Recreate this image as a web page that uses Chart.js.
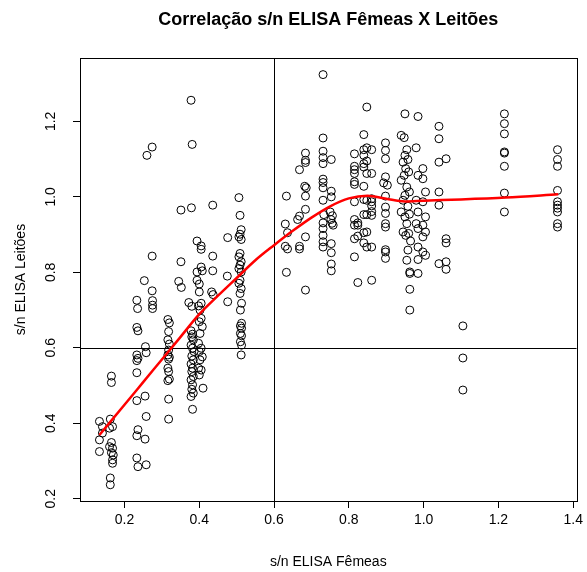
<!DOCTYPE html>
<html>
<head>
<meta charset="utf-8">
<script src="https://cdn.jsdelivr.net/npm/chart.js@4.4.0/dist/chart.umd.min.js"></script>
<style>
  html, body { margin: 0; padding: 0; background: #fff; }
  #wrap { width: 587px; height: 572px; }
</style>
</head>
<body>
<div id="wrap"><canvas id="c" width="587" height="572"></canvas></div>
<script>
const femeas = [
  0.133, 0.133, 0.133, 0.141, 0.141,
  0.165, 0.165, 0.162, 0.168, 0.160, 0.165, 0.160, 0.168, 0.165, 0.170, 0.168, 0.168, 0.162, 0.162,
  0.233, 0.235, 0.233, 0.236, 0.233, 0.236, 0.233, 0.233, 0.233, 0.236, 0.233, 0.233, 0.236,
  0.253, 0.256, 0.258, 0.255, 0.258, 0.255, 0.258, 0.260,
  0.274, 0.275, 0.275, 0.275, 0.274, 0.274,
  0.316, 0.320, 0.318, 0.316, 0.320, 0.318, 0.316, 0.320, 0.318, 0.316, 0.318, 0.320, 0.316, 0.318, 0.318,
  0.351, 0.351, 0.345, 0.352, 0.372, 0.380,
  0.378, 0.382, 0.380, 0.384, 0.378, 0.382, 0.386, 0.380, 0.384, 0.378, 0.382, 0.380, 0.384, 0.378, 0.382, 0.380, 0.384, 0.378, 0.382, 0.378, 0.381, 0.379,
  0.394, 0.394, 0.394,
  0.400, 0.405, 0.398, 0.402, 0.405, 0.400, 0.408, 0.402, 0.398, 0.405, 0.400, 0.408, 0.402, 0.398, 0.405, 0.400, 0.410, 0.405, 0.405, 0.405, 0.408, 0.400,
  0.436, 0.436, 0.436, 0.433, 0.437,
  0.476, 0.475, 0.476,
  0.506, 0.509, 0.512, 0.509, 0.506, 0.512, 0.509, 0.506, 0.512, 0.509, 0.506, 0.512, 0.509, 0.506, 0.512, 0.509, 0.513, 0.510, 0.513, 0.510, 0.513, 0.510, 0.513, 0.510, 0.513, 0.512,
  0.633, 0.630, 0.636, 0.630, 0.636, 0.633,
  0.668, 0.668, 0.663, 0.668, 0.668,
  0.684, 0.684, 0.684, 0.682, 0.686, 0.684, 0.684, 0.684, 0.684,
  0.731, 0.731, 0.731, 0.731, 0.731, 0.731, 0.731, 0.731, 0.731, 0.733, 0.731, 0.731, 0.731, 0.731, 0.731,
  0.753, 0.753, 0.753, 0.750, 0.756, 0.752, 0.755, 0.758, 0.753, 0.753, 0.753, 0.753,
  0.815, 0.815, 0.815, 0.815, 0.815, 0.815, 0.815, 0.815, 0.815, 0.815, 0.815,
  0.824, 0.824, 0.824, 0.824,
  0.840, 0.840, 0.840, 0.840, 0.840, 0.840, 0.840, 0.840, 0.840, 0.840,
  0.848, 0.848, 0.848, 0.848, 0.848, 0.848, 0.848, 0.848,
  0.861, 0.861, 0.861, 0.861, 0.861, 0.861, 0.861, 0.861, 0.861,
  0.898, 0.898, 0.898, 0.898, 0.893, 0.903, 0.898, 0.898, 0.898, 0.898, 0.898, 0.898, 0.898, 0.898,
  0.950, 0.940, 0.948, 0.955, 0.950, 0.958, 0.945, 0.952, 0.960, 0.948, 0.940, 0.955, 0.962, 0.950, 0.945, 0.958, 0.940, 0.962, 0.950, 0.955, 0.945, 0.960, 0.952, 0.965, 0.958, 0.955, 0.963, 0.963, 0.963, 0.963,
  0.985, 0.980, 0.998, 0.985, 0.998, 1.005, 0.980, 0.998, 0.985, 1.005, 0.980, 0.998, 0.985, 1.005, 0.998, 0.985, 0.998, 1.005, 0.985, 0.985,
  1.041, 1.041, 1.041, 1.041, 1.041, 1.041,
  1.060, 1.060, 1.060, 1.060, 1.060,
  1.105, 1.105, 1.105,
  1.216, 1.216, 1.216, 1.216, 1.216, 1.216, 1.216, 1.216,
  1.358, 1.358, 1.358, 1.358, 1.358, 1.358, 1.358, 1.358, 1.358, 1.358
];
const leitoes = [
  0.405, 0.356, 0.325, 0.374, 0.391,
  0.525, 0.508, 0.411, 0.391, 0.387, 0.349, 0.338, 0.334, 0.322, 0.316, 0.303, 0.294, 0.255, 0.237,
  0.726, 0.704, 0.654, 0.645, 0.581, 0.572, 0.566, 0.534, 0.460, 0.383, 0.367, 0.308, 0.285,
  0.778, 0.603, 0.587, 0.472, 0.418, 0.358, 0.290, 1.110,
  0.751, 0.725, 0.713, 0.704, 0.843, 1.132,
  0.675, 0.666, 0.643, 0.621, 0.610, 0.594, 0.581, 0.575, 0.570, 0.546, 0.537, 0.517, 0.513, 0.464, 0.411,
  0.965, 0.828, 0.776, 0.760, 0.720, 0.710,
  0.645, 0.636, 0.629, 0.621, 0.607, 0.599, 0.590, 0.578, 0.568, 0.557, 0.546, 0.537, 0.524, 0.515, 0.502, 0.490, 0.480, 0.471, 0.437, 1.256, 1.139, 0.971,
  0.883, 0.801, 0.779,
  0.748, 0.718, 0.711, 0.700, 0.678, 0.669, 0.656, 0.638, 0.612, 0.599, 0.590, 0.576, 0.568, 0.546, 0.541, 0.528, 0.493, 0.870, 0.861, 0.814, 0.804, 0.769,
  0.978, 0.843, 0.804, 0.748, 0.741,
  0.892, 0.790, 0.722,
  0.998, 0.951, 0.913, 0.901, 0.894, 0.887, 0.850, 0.841, 0.828, 0.819, 0.810, 0.801, 0.779, 0.771, 0.757, 0.744, 0.718, 0.700, 0.665, 0.658, 0.652, 0.638, 0.632, 0.616, 0.607, 0.581,
  1.002, 0.928, 0.905, 0.869, 0.862, 0.800,
  1.072, 0.949, 0.940, 0.869, 0.862,
  1.116, 1.097, 1.091, 1.028, 1.024, 1.002, 0.967, 0.894, 0.753,
  1.324, 1.156, 1.121, 1.104, 1.088, 1.047, 1.038, 1.024, 0.991, 0.953, 0.931, 0.916, 0.898, 0.881, 0.867,
  1.099, 1.015, 1.000, 0.960, 0.950, 0.940, 0.930, 0.925, 0.876, 0.852, 0.822, 0.804,
  1.114, 1.081, 1.072, 1.062, 1.040, 1.033, 0.987, 0.940, 0.925, 0.889, 0.841,
  0.931, 0.925, 0.896, 0.773,
  1.165, 1.125, 1.110, 1.088, 1.079, 1.028, 0.993, 0.953, 0.905, 0.878,
  1.238, 1.130, 1.095, 1.062, 0.991, 0.953, 0.907, 0.867,
  1.125, 1.062, 0.995, 0.987, 0.976, 0.961, 0.951, 0.867, 0.779,
  1.143, 1.123, 1.101, 1.053, 1.037, 1.031, 1.002, 0.973, 0.956, 0.929, 0.920, 0.860, 0.854, 0.837,
  1.220, 1.163, 1.157, 1.125, 1.110, 1.099, 1.092, 1.075, 1.066, 1.057, 1.044, 1.026, 1.013, 1.004, 0.991, 0.975, 0.960, 0.954, 0.947, 0.929, 0.907, 0.903, 0.898, 0.883, 0.859, 0.832, 0.801, 0.797, 0.755, 0.700,
  1.213, 1.130, 1.075, 1.057, 1.048, 1.013, 0.991, 0.987, 0.960, 0.947, 0.929, 0.925, 0.916, 0.907, 0.894, 0.867, 0.854, 0.845, 0.834, 0.797,
  1.187, 1.154, 1.092, 1.013, 0.978, 0.823,
  1.101, 0.889, 0.878, 0.828, 0.808,
  0.658, 0.573, 0.488,
  1.220, 1.194, 1.167, 1.119, 1.116, 1.081, 1.010, 0.960,
  1.125, 1.099, 1.081, 1.017, 0.987, 0.978, 0.970, 0.960, 0.929, 0.920
];
if (femeas.length !== leitoes.length) console.warn('tamanhos diferentes', femeas.length, leitoes.length);

// curva suavizada (lowess) em vermelho
const curvaX = [0.133, 0.20, 0.25, 0.30, 0.35, 0.40, 0.45, 0.50, 0.55, 0.60, 0.65, 0.70, 0.75, 0.80, 0.85, 0.90, 0.95, 1.00, 1.10, 1.22, 1.36];
const curvaY = [0.369, 0.449, 0.509, 0.569, 0.629, 0.689, 0.738, 0.785, 0.832, 0.872, 0.910, 0.945, 0.975, 0.996, 1.003, 0.995, 0.988, 0.990, 0.993, 0.998, 1.007];

const xTicks = [0.2, 0.4, 0.6, 0.8, 1.0, 1.2, 1.4];
const yTicks = [0.2, 0.4, 0.6, 0.8, 1.0, 1.2];
const corte = 0.6; // linhas de referencia (abline v=0.6, h=0.6)

const titulo = 'Correlação s/n ELISA Fêmeas X Leitões';
const tituloX = 's/n ELISA Fêmeas';
const tituloY = 's/n ELISA Leitões';

Chart.defaults.font.family = '"Liberation Sans", Arial, Helvetica, sans-serif';
Chart.defaults.color = '#000';

// caixa, linhas de referencia, titulo e rotulos do eixo y (rodados como no R)
const estiloR = {
  id: 'estiloR',
  beforeDatasetsDraw(chart) {
    const { ctx, chartArea: a, scales: { x, y } } = chart;
    const px = Math.round(x.getPixelForValue(corte)) + 0.5;
    const py = Math.round(y.getPixelForValue(corte)) + 0.5;
    ctx.save();
    ctx.strokeStyle = '#000';
    ctx.lineWidth = 1;
    ctx.beginPath();
    ctx.moveTo(px, a.top); ctx.lineTo(px, a.bottom);
    ctx.moveTo(a.left, py); ctx.lineTo(a.right, py);
    ctx.stroke();
    ctx.restore();
  },
  afterDraw(chart) {
    const { ctx, chartArea: a, scales: { y } } = chart;
    ctx.save();
    ctx.strokeStyle = '#000';
    ctx.lineWidth = 1;
    const l = Math.round(a.left) + 0.5, t = Math.round(a.top) + 0.5;
    ctx.strokeRect(l, t, Math.round(a.right) - Math.round(a.left), Math.round(a.bottom) - Math.round(a.top));

    ctx.fillStyle = '#000';
    ctx.textAlign = 'center';
    ctx.textBaseline = 'middle';
    ctx.font = 'bold 18px "Liberation Sans", Arial, sans-serif';
    ctx.fillText(titulo, (a.left + a.right) / 2, 20);

    ctx.font = '14px "Liberation Sans", Arial, sans-serif';
    yTicks.forEach((v) => {
      ctx.save();
      ctx.translate(a.left - 29, y.getPixelForValue(v));
      ctx.rotate(-Math.PI / 2);
      ctx.fillText(v.toFixed(1), 0, 0);
      ctx.restore();
    });
    ctx.restore();
  },
};

const pontos = femeas.map((v, i) => ({ x: v, y: leitoes[i] }));
const curva = curvaX.map((v, i) => ({ x: v, y: curvaY[i] }));

new Chart(document.getElementById('c'), {
  type: 'scatter',
  data: {
    datasets: [
      {
        type: 'line',
        data: curva,
        borderColor: '#ff0000',
        borderWidth: 2.5,
        pointRadius: 0,
        fill: false,
        cubicInterpolationMode: 'monotone',
      },
      {
        data: pontos,
        pointStyle: 'circle',
        pointRadius: 4,
        borderWidth: 1,
        borderColor: '#000',
        backgroundColor: 'rgba(0,0,0,0)',
      },
    ],
  },
  options: {
    responsive: false,
    animation: false,
    events: [],
    layout: { padding: { top: 58, right: 9, bottom: 0, left: 0 } },
    plugins: { legend: { display: false }, tooltip: { enabled: false } },
    scales: {
      x: {
        type: 'linear',
        min: 0.081,
        max: 1.409,
        afterBuildTicks: (s) => { s.ticks = xTicks.map((v) => ({ value: v })); },
        afterFit: (s) => { s.height = 71; },
        grid: { drawOnChartArea: false, drawTicks: true, tickLength: 7, color: '#000' },
        border: { color: '#000', width: 1 },
        ticks: { font: { size: 14 }, padding: 4, maxRotation: 0, callback: (v) => Number(v).toFixed(1) },
        title: { display: true, text: tituloX, font: { size: 14 }, padding: { top: 0, bottom: 1 } },
      },
      y: {
        type: 'linear',
        min: 0.194,
        max: 1.368,
        afterBuildTicks: (s) => { s.ticks = yTicks.map((v) => ({ value: v })); },
        afterFit: (s) => { s.width = 80; },
        grid: { drawOnChartArea: false, drawTicks: true, tickLength: 7, color: '#000' },
        border: { color: '#000', width: 1 },
        ticks: { display: false },
        title: { display: true, text: tituloY, font: { size: 14 }, padding: { top: 13, bottom: 0 } },
      },
    },
  },
  plugins: [estiloR],
});
</script>
</body>
</html>
